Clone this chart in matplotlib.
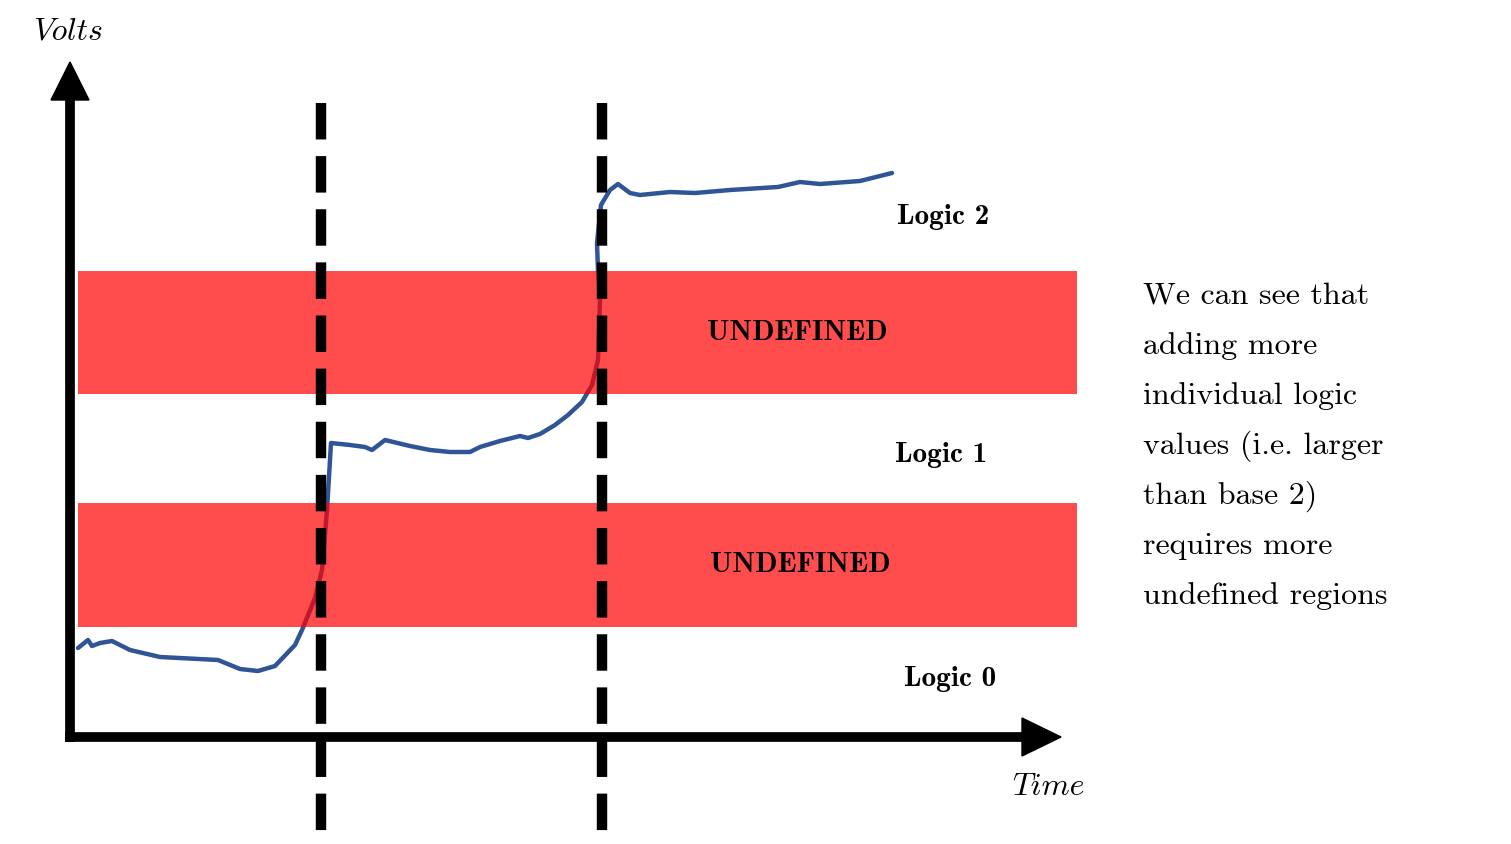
import matplotlib
matplotlib.use("Agg")
import matplotlib.pyplot as plt

# signal trace (pixel-like units, y grows downward)
time = [78, 88, 92, 100, 112, 120, 130, 160, 218, 240, 258, 275, 295, 302, 315, 322, 327, 331,
        350, 365, 372, 385, 410, 430, 450, 470, 480, 500, 520, 528, 540, 555, 568, 582, 592,
        598, 600, 598, 597, 601, 610, 618, 630, 640, 670, 695, 730, 778, 800, 820, 860, 880, 892]
volts = [648, 640, 646, 643, 641, 645, 650, 657, 660, 669, 671, 666, 645, 630, 598, 570, 510, 443,
         445, 447, 450, 440, 446, 450, 452, 452, 447, 441, 436, 438, 434, 425, 415, 402, 385,
         360, 300, 270, 243, 205, 190, 184, 193, 195, 192, 193, 190, 187, 182, 184, 181, 176, 173]

bands = [(271, 394), (503, 627)]
band_labels = ["UNDEFINED", "UNDEFINED"]
band_label_x = [797, 800]
logic_labels = ["Logic 2", "Logic 1", "Logic 0"]
logic_pos = [(943, 217), (941, 455), (950, 679)]
thresholds_x = [321, 602]
note = ["We can see that", "adding more", "individual logic", "values (i.e. larger",
        "than base 2)", "requires more", "undefined regions"]

fig = plt.figure(figsize=(15.11, 8.44), dpi=100)
ax = fig.add_axes([0, 0, 1, 1])
ax.set_xlim(0, 1511)
ax.set_ylim(844, 0)
ax.axis("off")

ax.plot(time, volts, color="#2f5597", lw=3.2, solid_capstyle="round", zorder=2)

for (top, bot), lab, lx in zip(bands, band_labels, band_label_x):
    ax.fill_between([78, 1077], top, bot, color="red", alpha=0.7, lw=0, zorder=3)
    ax.text(lx, (top + bot) / 2, lab, family="cmb10", fontsize=21,
            ha="center", va="center", zorder=5)

for lab, (x, y) in zip(logic_labels, logic_pos):
    ax.text(x, y, lab, family="cmb10", fontsize=21, ha="center", va="center")

for x in thresholds_x:
    ax.plot([x, x], [103, 838], color="black", lw=7.5, dashes=(3.5, 1.6), zorder=4)

# axes with arrowheads
ax.plot([70, 70], [742, 90], color="black", lw=7, solid_capstyle="butt", zorder=4)
ax.fill([51, 89, 70], [100, 100, 62], color="black", zorder=4)
ax.plot([65, 1030], [737, 737], color="black", lw=7, solid_capstyle="butt", zorder=4)
ax.fill([1022, 1022, 1061], [718, 756, 737], color="black", zorder=4)

ax.text(68, 32, "Volts", family="cmmi10", fontsize=23, ha="center", va="center")
ax.text(1048, 787, "Time", family="cmmi10", fontsize=23, ha="center", va="center")

for i, line in enumerate(note):
    ax.text(1143, 296 + 50 * i, line, family="cmr10", fontsize=23, ha="left", va="center")

fig.savefig("out.png", dpi=100)
